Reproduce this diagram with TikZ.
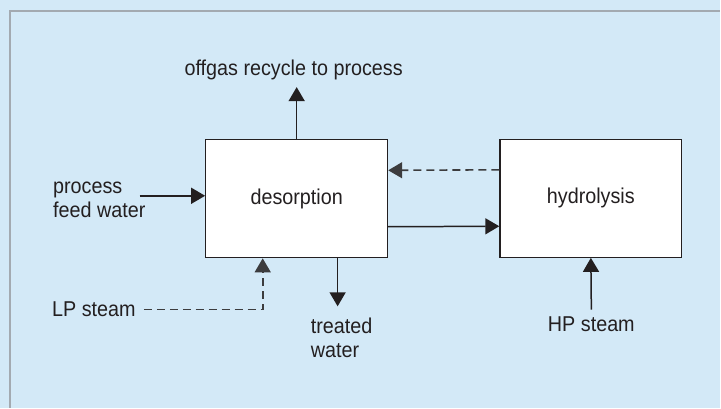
\documentclass[tikz,border=0pt]{standalone}
\usepackage{fontspec}
\setmainfont[FakeStretch=0.92]{Liberation Sans}
\usetikzlibrary{arrows.meta}
\definecolor{panel}{HTML}{D3E9F7}
\definecolor{frame}{HTML}{A3AAB1}
\definecolor{ink}{HTML}{231F20}
\definecolor{dashink}{HTML}{3C3C3E}

\begin{document}
\begin{tikzpicture}[x=1pt, y=-1pt,
    every node/.style={text=ink, font=\fontsize{21.5}{24}\selectfont},
    unit/.style={draw=ink, fill=white, line width=1.3pt, minimum width=182pt, minimum height=118pt},
    flow/.style={draw=ink, line width=1.5pt, -{Triangle[length=14pt,width=16pt]}},
    back/.style={flow, draw=dashink, line width=1.6pt, dash pattern=on 8pt off 5pt}]
    \fill[panel] (0,0) rectangle (721,408);
    \draw[frame, line width=1.6pt] (10,408) -- (10,11) -- (721,11);
    \useasboundingbox (0,0) rectangle (721,408);

    % the two units
    \node[unit] (des) at (297,199) {desorption};
    \node[unit] (hyd) at (591.5,198.5) {hydrolysis};

    % streams in and out
    \node[anchor=west, align=left, inner sep=0pt] (feed) at (53,200) {process\\feed water};
    \node[inner sep=0pt] (off) at (294,70) {offgas recycle to process};
    \node[anchor=west, inner sep=0pt] (lp) at (52,310) {LP steam};
    \node[anchor=north west, align=left, inner sep=0pt] (tw) at (311,318) {treated\\water};
    \node[anchor=north, inner sep=0pt] (hp) at (592,317) {HP steam};

    \draw[flow] ([xshift=-6pt,yshift=4pt]feed.east) -- ([yshift=3pt]des.west);
    \draw[flow] (des.north) -- ([yshift=-7pt]des.north |- off.south);
    \draw[flow] ([yshift=-28pt]des.east) -- ([yshift=-28pt]hyd.west);
    \draw[back] ([yshift=28.5pt]hyd.west) -- ([yshift=28.5pt]des.east);
    \draw[back, shorten <=8pt] (lp.east) -| ([xshift=-34pt]des.south);
    \draw[flow] ([xshift=41pt]des.south) -- ([xshift=41pt,yshift=-48pt]des.south);
    \draw[flow] ([yshift=7pt]hp.north) -- (hyd.south);

    %\node at (297,380) {};
\end{tikzpicture}
\end{document}
